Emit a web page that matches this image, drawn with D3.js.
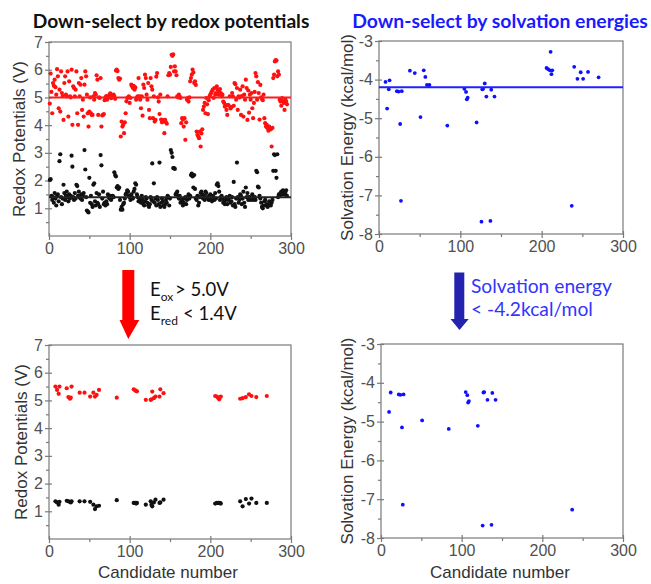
<!DOCTYPE html>
<html><head><meta charset="utf-8">
<script src="https://cdn.jsdelivr.net/npm/d3@7/dist/d3.min.js"></script>
<style>body{margin:0;background:#fff}svg{display:block}</style>
</head><body>
<svg id="c" width="651" height="584"></svg>
<script>
// ---------- DATA ----------
// All ~295 candidates: oxidation (red) and reduction (black) potentials, V
const oxAll = [
 4.78,5.86,5.20,4.43,5.52,5.42,5.64,5.37,5.10,6.02,
 5.76,4.61,5.28,4.49,5.94,5.16,5.05,4.19,5.52,5.76,
 5.10,5.04,5.94,4.31,5.58,5.04,5.00,6.00,4.01,5.40,
 5.34,5.04,5.28,5.94,4.43,4.01,5.52,5.04,5.46,5.70,
 4.55,4.92,4.31,5.46,5.94,5.76,5.10,4.43,3.95,4.49,
 5.00,4.43,4.37,4.37,5.04,4.92,5.16,5.10,5.80,5.64,
 4.37,5.00,4.98,5.70,3.95,4.35,4.37,4.40,4.90,5.00,
 5.05,4.92,5.00,5.03,5.10,5.15,4.97,5.00,5.05,5.10,
 5.05,4.95,5.97,6.00,5.95,5.70,5.64,5.68,3.59,4.13,
 3.95,4.01,3.71,4.10,4.43,4.86,4.98,5.00,5.04,4.80,
 4.98,5.46,5.40,5.34,5.42,5.28,5.36,4.92,5.00,5.04,
 5.70,5.04,4.92,4.61,5.04,4.34,5.46,5.34,5.82,5.70,
 5.10,4.92,5.52,4.55,4.25,5.70,5.40,5.28,4.25,5.04,
 4.13,4.19,5.75,5.88,5.00,4.85,4.40,5.10,4.20,4.10,
 4.19,4.13,3.71,4.19,4.10,4.05,5.04,5.80,5.88,5.82,
 6.10,6.54,6.50,6.55,5.94,6.12,5.94,5.80,5.04,5.00,
 5.10,5.04,4.98,4.07,4.25,4.20,3.95,4.25,3.47,4.10,
 4.92,4.98,4.85,5.00,5.58,5.70,5.82,6.00,5.90,5.52,
 5.58,5.45,3.77,3.65,3.60,3.53,3.77,3.23,3.70,3.85,
 4.55,4.67,4.80,4.43,4.98,4.75,4.40,4.90,5.04,5.10,
 5.16,5.22,5.28,4.98,5.34,5.10,5.16,5.40,5.28,5.10,
 5.20,5.30,5.16,5.04,5.10,4.85,4.80,4.67,4.73,4.55,
 4.37,4.73,4.70,5.04,4.60,4.65,5.16,5.04,4.70,5.52,
 5.48,4.92,5.34,4.55,5.04,5.00,5.28,4.37,5.05,5.40,
 4.31,5.10,4.92,5.64,5.34,4.19,5.25,4.45,5.10,4.92,
 5.16,4.61,4.25,4.80,5.20,5.88,5.76,4.92,5.55,5.16,
 4.20,5.45,5.00,4.95,4.90,5.10,4.25,4.07,3.95,4.01,
 3.89,3.80,3.95,3.89,3.85,3.23,3.90,5.70,5.82,6.30,
 6.35,6.33,5.76,5.94,5.82,4.92,4.85,4.70,4.98,4.86,
 4.80,4.55,4.92,4.85,4.75
];
const redAll = [
 2.02,2.05,1.45,1.30,1.40,1.20,1.55,1.35,1.10,1.45,
 1.50,1.25,2.70,2.95,1.40,1.15,1.35,1.85,1.55,1.30,
 1.45,1.60,1.40,1.25,1.50,1.35,1.45,2.90,2.50,1.40,
 1.30,1.55,1.35,1.85,1.80,1.45,1.60,1.40,1.35,1.50,
 1.30,1.45,1.55,3.10,2.40,1.40,0.92,0.88,0.85,2.10,
 1.20,1.45,1.15,1.05,1.85,1.90,1.25,1.10,1.55,1.20,
 1.15,1.50,1.05,2.92,2.55,1.35,1.60,1.15,1.20,1.10,
 1.25,1.15,1.50,1.40,1.35,1.45,1.30,1.40,1.45,1.40,
 2.30,2.20,2.15,1.75,1.80,1.70,1.75,1.30,0.95,1.05,
 0.95,1.15,1.20,1.35,1.50,1.55,1.65,1.60,1.45,1.40,
 1.30,1.50,1.40,1.35,1.60,1.70,1.90,1.85,1.50,1.40,
 1.25,1.35,1.30,1.20,1.45,1.30,1.15,1.10,1.25,1.40,
 1.35,1.20,1.10,1.05,1.15,1.40,1.30,2.62,1.25,1.90,
 1.20,1.35,1.10,1.40,1.30,1.15,2.65,1.05,1.20,1.35,
 1.25,1.10,1.05,1.15,1.30,1.20,1.45,1.40,1.10,1.35,
 3.10,3.00,2.85,2.45,2.45,2.42,1.50,1.55,1.60,1.45,
 1.35,1.45,1.20,1.25,1.30,1.10,1.20,1.35,1.40,1.15,
 1.30,1.40,1.50,1.35,1.45,2.20,2.25,2.15,1.75,2.20,
 1.70,1.35,1.30,1.45,1.10,1.20,1.40,1.55,1.60,1.50,
 1.35,1.45,1.30,1.60,1.55,1.40,1.35,1.30,1.45,1.50,
 1.30,1.25,1.45,1.40,1.30,1.55,1.35,1.85,1.90,1.80,
 1.60,1.30,1.40,1.45,1.35,1.20,1.25,1.15,1.30,1.40,
 1.15,1.30,1.35,1.45,1.20,1.25,1.40,1.10,1.95,1.15,
 1.05,1.35,2.65,1.40,1.20,1.30,1.50,1.45,1.15,1.35,
 1.60,1.20,1.05,1.75,1.40,1.55,1.30,1.40,1.40,1.30,
 1.35,1.50,1.30,1.40,1.40,1.30,2.35,2.30,1.78,1.75,
 1.45,1.35,1.20,1.05,1.00,1.10,1.25,1.30,1.10,1.15,
 1.05,1.10,1.25,1.15,1.10,1.20,1.30,2.35,2.95,2.92,
 2.35,2.10,2.95,1.40,1.50,1.45,1.55,1.60,1.50,1.65,
 1.60,1.50,1.55,1.65,1.45
];
// Candidates that pass the redox filter (Eox > 5.0 V and Ered < 1.4 V)
const selCand = [8,10,12,13,22,24,26,27,28,38,44,51,55,57,59,62,84,105,107,108,109,120,126,127,128,130,132,137,138,142,206,208,210,211,212,213,237,240,244,248,251,257,270];
const selOx   = [5.50,5.38,5.24,5.50,5.44,5.12,5.06,5.10,5.50,5.28,5.28,5.14,5.28,5.14,5.20,5.38,5.10,5.40,5.36,5.34,5.33,5.02,5.02,5.04,5.32,5.08,5.14,5.14,5.40,5.26,5.16,5.14,5.08,5.04,5.12,5.14,5.06,5.08,5.12,5.22,5.16,5.12,5.16];
const selRed  = [1.36,1.32,1.24,1.34,1.38,1.36,1.34,1.32,1.36,1.36,1.36,1.34,1.24,1.08,1.18,1.20,1.40,1.30,1.30,1.28,1.30,1.24,1.36,1.24,1.18,1.32,1.42,1.30,1.32,1.42,1.28,1.30,1.30,1.29,1.30,1.28,1.36,1.18,1.44,1.28,1.46,1.30,1.30];
const selSolv = [-4.06,-4.75,-4.25,-4.02,-4.30,-4.31,-5.15,-7.14,-4.30,-3.77,-3.83,-4.97,-3.76,-3.93,-4.14,-4.14,-5.19,-4.24,-4.32,-4.51,-4.47,-5.11,-7.68,-4.25,-4.24,-4.10,-4.44,-7.66,-4.26,-4.44,-3.70,-3.73,-3.76,-3.28,-3.86,-3.76,-7.27,-3.67,-3.98,-3.81,-3.98,-3.80,-3.94];
const oxCut = 5.0, redCut = 1.4, solvCut = -4.2;
const xTicks = [0,100,200,300];
const redoxTicks = [1,2,3,4,5,6,7];
const solvTicks = [-8,-7,-6,-5,-4,-3];

// ---------- DRAW ----------
const svg = d3.select('#c');
const AX = '#7a7a7a', TXT = '#505050';
const FONT = "'Liberation Sans', Arial, sans-serif";

function fitText(sel, target) {
  const n = sel.node(); const w = n.getComputedTextLength();
  const fs = parseFloat(sel.attr('font-size'));
  sel.attr('font-size', (fs * target / w).toFixed(2));
}

function panel(cfg) {
  const x = d3.scaleLinear().domain([0,300]).range([cfg.x0, cfg.x1]);
  const y = d3.scaleLinear().domain(cfg.yDom).range([cfg.yb, cfg.yt]);
  const g = svg.append('g');
  const xMinor = [50,150,250];
  const yHalf = d3.range(cfg.yDom[0] * 2, cfg.yDom[1] * 2 + 1).map(v => v / 2).filter(v => v % 1 !== 0);

  g.append('rect').attr('x', cfg.x0).attr('y', cfg.yt)
    .attr('width', cfg.x1 - cfg.x0).attr('height', cfg.yb - cfg.yt)
    .attr('fill', 'none').attr('stroke', AX).attr('stroke-width', 1.2);

  function styleAxis(a) {
    a.select('.domain').remove();
    a.selectAll('line').attr('stroke', AX).attr('stroke-width', 1.2);
    a.selectAll('text').attr('font-family', FONT).attr('font-size', 16).attr('fill', TXT);
  }
  const bx = g.append('g').attr('transform', `translate(0,${cfg.yb})`)
    .call(d3.axisBottom(x).tickValues(xTicks).tickSize(4).tickPadding(3).tickFormat(d3.format('d')));
  styleAxis(bx);
  const bxi = g.append('g').attr('transform', `translate(0,${cfg.yb})`)
    .call(d3.axisBottom(x).tickValues(xTicks).tickSize(-3).tickFormat(''));
  styleAxis(bxi);
  const bxm = g.append('g').attr('transform', `translate(0,${cfg.yb})`)
    .call(d3.axisBottom(x).tickValues(xMinor).tickSize(3).tickFormat(''));
  styleAxis(bxm);
  const ly = g.append('g').attr('transform', `translate(${cfg.x0},0)`)
    .call(d3.axisLeft(y).tickValues(cfg.yTicks).tickSize(4).tickPadding(2).tickFormat(d3.format('d')));
  styleAxis(ly);
  ly.selectAll('text').text(d => d < 0 ? '-' + Math.abs(d) : d);
  const lyi = g.append('g').attr('transform', `translate(${cfg.x0},0)`)
    .call(d3.axisLeft(y).tickValues(cfg.yTicks).tickSize(-3).tickFormat(''));
  styleAxis(lyi);
  const lym = g.append('g').attr('transform', `translate(${cfg.x0},0)`)
    .call(d3.axisLeft(y).tickValues(yHalf).tickSize(3).tickFormat(''));
  styleAxis(lym);

  g.append('text').attr('transform', `translate(${cfg.ylx},${(cfg.yt + cfg.yb) / 2}) rotate(-90)`)
    .attr('text-anchor', 'middle').attr('dominant-baseline', 'central')
    .attr('font-family', FONT).attr('font-size', 17).attr('fill', '#333')
    .text(cfg.ylabel);
  if (cfg.xlabel) {
    g.append('text').attr('x', (cfg.x0 + cfg.x1) / 2 - 2).attr('y', 578)
      .attr('text-anchor', 'middle').attr('font-family', FONT).attr('font-size', 17).attr('fill', '#333')
      .text(cfg.xlabel);
  }
  return {x, y, g};
}

// Top-left
const p1 = panel({x0:49, x1:291, yt:42, yb:236, yDom:[0,7], yTicks:redoxTicks, ylx:19, ylabel:'Redox Potentials (V)'});
p1.g.append('g').selectAll('circle').data(oxAll).join('circle')
  .attr('cx', (d,i) => p1.x(i + 1)).attr('cy', d => p1.y(d)).attr('r', 2.1).attr('fill', '#ff1010');
p1.g.append('g').selectAll('circle').data(redAll).join('circle')
  .attr('cx', (d,i) => p1.x(i + 1)).attr('cy', d => p1.y(d)).attr('r', 2.1).attr('fill', '#111');
p1.g.append('line').attr('x1', p1.x(0)).attr('x2', p1.x(300)).attr('y1', p1.y(oxCut)).attr('y2', p1.y(oxCut))
  .attr('stroke', '#ff1a1a').attr('stroke-width', 2);
p1.g.append('line').attr('x1', p1.x(0)).attr('x2', p1.x(300)).attr('y1', p1.y(redCut)).attr('y2', p1.y(redCut))
  .attr('stroke', '#222').attr('stroke-width', 2);

// Top-right
const p2 = panel({x0:379, x1:623, yt:41, yb:234, yDom:[-8,-3], yTicks:solvTicks, ylx:347, ylabel:'Solvation Energy (kcal/mol)'});
p2.g.append('g').selectAll('circle').data(selSolv).join('circle')
  .attr('cx', (d,i) => p2.x(selCand[i])).attr('cy', d => p2.y(d)).attr('r', 1.9).attr('fill', '#1010ff');
p2.g.append('line').attr('x1', p2.x(0)).attr('x2', p2.x(300)).attr('y1', p2.y(solvCut)).attr('y2', p2.y(solvCut))
  .attr('stroke', '#2020ff').attr('stroke-width', 2);

// Bottom-left
const p3 = panel({x0:49, x1:291, yt:345, yb:539, yDom:[0,7], yTicks:redoxTicks, ylx:21, ylabel:'Redox Potentials (V)', xlabel:'Candidate number'});
p3.g.append('g').selectAll('circle').data(selOx).join('circle')
  .attr('cx', (d,i) => p3.x(selCand[i])).attr('cy', d => p3.y(d)).attr('r', 2.1).attr('fill', '#ff1010');
p3.g.append('g').selectAll('circle').data(selRed).join('circle')
  .attr('cx', (d,i) => p3.x(selCand[i])).attr('cy', d => p3.y(d)).attr('r', 2.1).attr('fill', '#111');

// Bottom-right
const p4 = panel({x0:381, x1:623, yt:344, yb:538, yDom:[-8,-3], yTicks:solvTicks, ylx:347, ylabel:'Solvation Energy (kcal/mol)', xlabel:'Candidate number'});
const passIdx = selSolv.map((d,i) => i).filter(i => selSolv[i] < solvCut);
p4.g.append('g').selectAll('circle').data(passIdx).join('circle')
  .attr('cx', i => p4.x(selCand[i])).attr('cy', i => p4.y(selSolv[i])).attr('r', 1.9).attr('fill', '#1010ff');

// Titles
const TFONT = "Lato, 'Open Sans', sans-serif";
const t1 = svg.append('text').attr('x', 171).attr('y', 28).attr('text-anchor', 'middle')
  .attr('font-family', TFONT).attr('font-weight', 'bold').attr('font-size', 18).attr('fill', '#111')
  .text('Down-select by redox potentials');
fitText(t1, 277);
const t2 = svg.append('text').attr('x', 500).attr('y', 28).attr('text-anchor', 'middle')
  .attr('font-family', TFONT).attr('font-weight', 'bold').attr('font-size', 18).attr('fill', '#1a1aff')
  .text('Down-select by solvation energies');
fitText(t2, 296);

// Arrows
svg.append('path').attr('d', 'M122.3,270 L134.3,270 L134.3,320 L139.3,320 L128.3,339 L119.5,320 L122.3,320 Z')
  .attr('fill', '#ff0000');
svg.append('path').attr('d', 'M454.3,272.5 L464.3,272.5 L464.3,319 L468.7,319 L459.5,330 L450.5,319 L454.3,319 Z')
  .attr('fill', '#2323b0');

// Criteria text
const AFONT = "Lato, 'Open Sans', sans-serif";
const l1 = svg.append('text').attr('x', 150).attr('y', 296).attr('font-family', AFONT).attr('font-size', 18.5).attr('fill', '#111');
l1.append('tspan').text('E');
l1.append('tspan').attr('font-size', 12).attr('dy', 5).text('ox');
l1.append('tspan').attr('x', 175).attr('dy', -5).text('> 5.0V');
const l2 = svg.append('text').attr('x', 150).attr('y', 320).attr('font-family', AFONT).attr('font-size', 18.5).attr('fill', '#111');
l2.append('tspan').text('E');
l2.append('tspan').attr('font-size', 12).attr('dy', 5).text('red');
l2.append('tspan').attr('x', 183).attr('dy', -5).text('< 1.4V');

const b1 = svg.append('text').attr('x', 471).attr('y', 293).attr('font-family', AFONT).attr('font-size', 18).attr('fill', '#3333ff')
  .text('Solvation energy');
fitText(b1, 141);
const b2 = svg.append('text').attr('x', 471).attr('y', 316).attr('font-family', AFONT).attr('font-size', 18).attr('fill', '#3333ff')
  .text('< -4.2kcal/mol');
b2.attr('font-size', b1.attr('font-size'));
</script>
</body></html>
